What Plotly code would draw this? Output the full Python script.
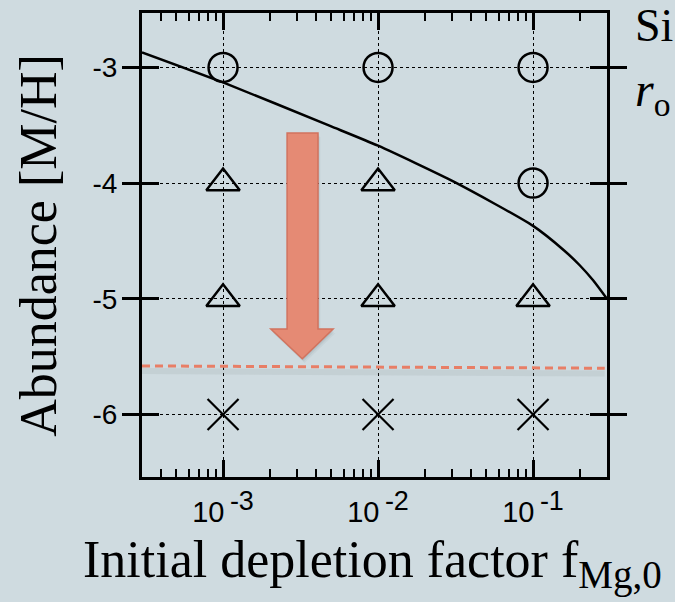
import plotly.graph_objects as go
import numpy as np

# ---- data ----
circle_x = [1e-3, 1e-2, 1e-1, 1e-1]
circle_y = [-3, -3, -3, -4]
triangle_x = [1e-3, 1e-2, 1e-3, 1e-2, 1e-1]
triangle_y = [-4, -4, -5, -5, -5]
cross_x = [1e-3, 1e-2, 1e-1]
cross_y = [-6, -6, -6]

curve_x = [3.0e-4, 1e-3, 4.9e-3, 1e-2, 3.1e-2, 1e-1, 0.158, 0.2, 0.244, 0.3]
curve_y = [-2.87, -3.13, -3.506, -3.677, -3.99, -4.37, -4.58, -4.71, -4.84, -5.0]

limit_x = [3.0e-4, 0.29]
limit_y = [-5.58, -5.60]
limit_shadow_y = [-5.625, -5.645]

x_tickvals = [1e-3, 1e-2, 1e-1]
x_exponents = ["-3", "-2", "-1"]
x_ticktext = [f"10<sup><span style='font-size:27px'>\u2009{e}</span></sup>" for e in x_exponents]
x_minor = [m * 10.0 ** e for e in (-4, -3, -2) for m in range(2, 10) if 3.0e-4 <= m * 10.0 ** e] + [0.2]
y_tickvals = [-3, -4, -5, -6]
y_ticktext = ["-3", "-4", "-5", "-6"]

BG = "rgb(207,219,224)"
SERIF = "Liberation Serif, Times New Roman, serif"
SANS = "Liberation Sans, Arial, Helvetica, sans-serif"
ARROW = "rgb(229,138,116)"

fig = go.Figure()

fig.add_trace(go.Scatter(x=limit_x, y=limit_shadow_y, mode="lines",
                         line=dict(color="rgba(120,130,135,0.12)", width=6),
                         hoverinfo="skip", showlegend=False))
fig.add_trace(go.Scatter(x=limit_x, y=limit_y, mode="lines",
                         line=dict(color="rgb(232,126,102)", width=3, dash="8px,5px"),
                         showlegend=False))
fig.add_trace(go.Scatter(x=curve_x, y=curve_y, mode="lines",
                         line=dict(color="black", width=2.5, shape="spline", smoothing=0.6),
                         showlegend=False))
fig.add_trace(go.Scatter(x=circle_x, y=circle_y, mode="markers",
                         marker=dict(symbol="circle-open", size=29, color="black",
                                     line=dict(width=2.5, color="black")),
                         showlegend=False))
fig.add_trace(go.Scatter(x=triangle_x, y=triangle_y, mode="markers",
                         marker=dict(symbol="triangle-up-open", size=29, color="black",
                                     line=dict(width=2.5, color="black")),
                         showlegend=False))
fig.add_trace(go.Scatter(x=cross_x, y=cross_y, mode="markers",
                         marker=dict(symbol="x-thin-open", size=31, color="black",
                                     line=dict(width=2.2, color="black")),
                         showlegend=False))
# minor ticks carrier (overlay axis)
fig.add_trace(go.Scatter(x=[3e-4], y=[-6.5], xaxis="x2", mode="markers",
                         marker=dict(opacity=0), hoverinfo="skip", showlegend=False))

# ---- block arrow (paper coords) ----
def arrow_path(dx=0.0, dy=0.0):
    xl, xr = 0.312 + dx, 0.3785 + dx
    hl, hr = 0.277 + dx, 0.411 + dx
    tip = 0.3447 + dx
    top, neck, bot = 0.7415 + dy, 0.319 + dy, 0.2548 + dy
    return (f"M {xl},{top} L {xr},{top} L {xr},{neck} L {hr},{neck} "
            f"L {tip},{bot} L {hl},{neck} L {xl},{neck} Z")

shapes = []
for dx, dy, a in [(0.005, -0.009, 0.05), (0.003, -0.006, 0.07), (0.0015, -0.003, 0.09)]:
    shapes.append(dict(type="path", xref="paper", yref="paper", path=arrow_path(dx, dy),
                       fillcolor=f"rgba(60,70,75,{a})", line=dict(width=0), layer="above"))
shapes.append(dict(type="path", xref="paper", yref="paper", path=arrow_path(),
                   fillcolor=ARROW, line=dict(color="rgb(210,115,94)", width=1.5), layer="above"))

axis_common = dict(showline=True, linecolor="black", linewidth=3,
                   ticks="inside", tickcolor="black", ticklen=17, tickwidth=2.5,
                   showgrid=True, gridcolor="black", gridwidth=1, griddash="3px,3px",
                   zeroline=False)

fig.update_layout(
    width=675, height=602,
    margin=dict(l=142, r=68, t=10, b=125),
    paper_bgcolor=BG, plot_bgcolor=BG,
    xaxis=dict(type="log", range=[np.log10(3.0e-4), np.log10(0.3)],
               tickvals=x_tickvals, ticktext=x_ticktext, mirror="allticks",
               ticklabelstandoff=7, tickfont=dict(family=SANS, size=29, color="black"),
               **axis_common),
    xaxis2=dict(type="log", overlaying="x", matches="x", anchor="y",
                range=[np.log10(3.0e-4), np.log10(0.3)],
                tickvals=x_minor, showticklabels=False, ticks="inside", ticklen=8,
                tickwidth=2, tickcolor="black", mirror="allticks", showline=False,
                showgrid=False, zeroline=False),
    yaxis=dict(range=[-6.54, -2.53], tickvals=y_tickvals, ticktext=y_ticktext,
               mirror="allticks", ticklabelstandoff=16,
               tickfont=dict(family=SANS, size=28, color="black"), **axis_common),
    shapes=shapes,
    annotations=[
        dict(text="Abundance [M/H]", xref="paper", yref="paper", x=-0.224, y=0.5,
             textangle=-90, showarrow=False, xanchor="center", yanchor="middle",
             font=dict(family=SERIF, size=52, color="black")),
        dict(text="Initial depletion factor f<sub><span style='font-size:39px'>Mg,0</span></sub>",
             xref="paper", yref="paper",
             x=(81 - 142) / 465, y=-0.112, xanchor="left", yanchor="top", showarrow=False,
             font=dict(family=SERIF, size=52, color="black")),
        dict(text="Si", xref="paper", yref="paper", x=(633 - 142) / 465, y=1.033,
             xanchor="left", yanchor="top", showarrow=False,
             font=dict(family=SERIF, size=46, color="black")),
        dict(text="<i>r</i><sub>o</sub>", xref="paper", yref="paper", x=(633 - 142) / 465,
             y=0.897, xanchor="left", yanchor="top", showarrow=False,
             font=dict(family=SERIF, size=48, color="black")),
    ],
)

fig.write_html("out.html", config={"displayModeBar": False},
               post_script="document.body.style.margin='0';")
